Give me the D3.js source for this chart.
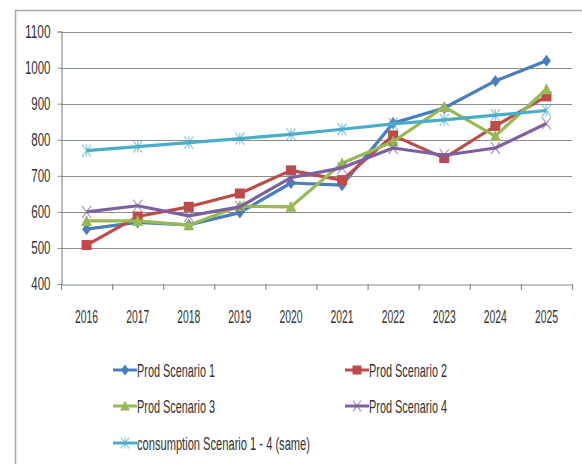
<!DOCTYPE html>
<html><head><meta charset="utf-8">
<script src="https://cdn.jsdelivr.net/npm/d3@7"></script>
<style>
body{margin:0;background:#fff;}
text{font-family:"Liberation Sans",Arial,sans-serif;fill:#333;}
</style></head>
<body><svg id="c" width="582" height="464"></svg>
<script>
const years = ["2016","2017","2018","2019","2020","2021","2022","2023","2024","2025"];
const prod1 = [552, 571, 564, 598, 680, 674, 846, 888, 963, 1019];
const prod2 = [508, 587, 614, 651, 715, 688, 812, 749, 838, 920];
const prod3 = [575, 575, 563, 616, 614, 735, 795, 891, 810, 940];
const prod4 = [600, 617, 589, 614, 695, 722, 777, 757, 777, 845];
const consumption = [770, 781, 792, 803, 815, 829, 844, 855, 868, 881];
const yTicks = [400, 500, 600, 700, 800, 900, 1000, 1100];
const seriesNames = ["Prod Scenario 1","Prod Scenario 2","Prod Scenario 3","Prod Scenario 4","consumption Scenario 1 - 4 (same)"];

const series = [
  {name: seriesNames[0], values: prod1, color: "#4a7ebb", marker: "diamond"},
  {name: seriesNames[1], values: prod2, color: "#be4b48", marker: "square"},
  {name: seriesNames[2], values: prod3, color: "#98b954", marker: "triangle"},
  {name: seriesNames[3], values: prod4, color: "#7d60a0", marker: "x"},
  {name: seriesNames[4], values: consumption, color: "#4bacc6", marker: "star"}
];

const svg = d3.select("#c");
// frame
svg.append("path").attr("d","M15.5,464 V10.5 H582").attr("fill","none").attr("stroke","#a6a6a6").attr("stroke-width",1.5);

const x = d3.scaleBand().domain(years).range([61, 572]);
const y = d3.scaleLinear().domain([400, 1100]).range([284, 31.5]);

// gridlines
svg.append("g").selectAll("line").data(yTicks.slice(1)).join("line")
  .attr("x1", 61).attr("x2", 572)
  .attr("y1", d => Math.round(y(d))+0.5).attr("y2", d => Math.round(y(d))+0.5)
  .attr("stroke", "#8c8c8c").attr("stroke-width", 1.2);

// y axis
const yAxis = svg.append("g").attr("transform","translate(61.5,0)")
  .call(d3.axisLeft(y).tickValues(yTicks).tickFormat(d3.format("d")).tickSize(4).tickPadding(7));
yAxis.select(".domain").attr("stroke","#8c8c8c").attr("stroke-width",1.2);
yAxis.selectAll(".tick line").attr("stroke","#8c8c8c");
yAxis.selectAll("text").attr("font-size",18).attr("font-family",null).style("fill","#333")
  .attr("textLength", d => String(d).length * 6.4).attr("lengthAdjust","spacingAndGlyphs");

// x axis
const xAxis = svg.append("g").attr("transform","translate(0,284.5)")
  .call(d3.axisBottom(x).tickSize(0));
xAxis.select(".domain").attr("stroke","#8c8c8c").attr("stroke-width",1.2);
xAxis.selectAll("text").attr("font-size",18).attr("font-family",null).style("fill","#333")
  .attr("y", 38.5).attr("dy", 0)
  .attr("textLength", 23).attr("lengthAdjust","spacingAndGlyphs");
// x tick marks at band boundaries
svg.append("g").selectAll("line").data(years.concat(["end"])).join("line")
  .attr("x1",(d,i)=> 61 + i*x.bandwidth()+0.5).attr("x2",(d,i)=> 61 + i*x.bandwidth()+0.5)
  .attr("y1",284).attr("y2",290).attr("stroke","#8c8c8c").attr("stroke-width",1.2);

const cx = i => x(years[i]) + x.bandwidth()/2;

function drawMarker(g, type, color, px, py, s) {
  s = s || 1;
  if (type === "diamond") {
    g.append("path").attr("d", `M${px},${py-6*s} L${px+4.5*s},${py} L${px},${py+6*s} L${px-4.5*s},${py} Z`).attr("fill", color);
  } else if (type === "square") {
    g.append("rect").attr("x", px-5*s).attr("y", py-5*s).attr("width", 10*s).attr("height", 10*s).attr("fill", color);
  } else if (type === "triangle") {
    g.append("path").attr("d", `M${px},${py-6*s} L${px+5.5*s},${py+5*s} L${px-5.5*s},${py+5*s} Z`).attr("fill", color);
  } else if (type === "x") {
    g.append("path").attr("d", `M${px-4.5*s},${py-6*s} L${px+4.5*s},${py+6*s} M${px+4.5*s},${py-6*s} L${px-4.5*s},${py+6*s}`).attr("stroke", color).attr("stroke-width", 1.3).attr("opacity",0.6);
  } else if (type === "star") {
    g.append("path").attr("d", `M${px-4.5*s},${py-6*s} L${px+4.5*s},${py+6*s} M${px+4.5*s},${py-6*s} L${px-4.5*s},${py+6*s} M${px},${py-6*s} L${px},${py+6*s}`).attr("stroke", color).attr("stroke-width", 1.3).attr("opacity",0.6);
  }
}

const line = d3.line().x((d,i)=>cx(i)).y(d=>y(d));
const plot = svg.append("g");
series.forEach(s => {
  const g = plot.append("g");
  g.append("path").datum(s.values).attr("d", line).attr("fill","none")
    .attr("stroke", s.color).attr("stroke-width", 3.2).attr("stroke-linejoin","round");
  s.values.forEach((v,i) => drawMarker(g, s.marker, s.color, cx(i), y(v)));
});

// legend
const legendPos = [[113,370],[345,370],[113,406],[345,406],[113,443]];
const legendLen = [78, 78, 78, 78, 173];
const lg = svg.append("g");
series.forEach((s,i) => {
  const [lx, ly] = legendPos[i];
  lg.append("line").attr("x1", lx).attr("x2", lx+24).attr("y1", ly).attr("y2", ly)
    .attr("stroke", s.color).attr("stroke-width", 3);
  drawMarker(lg, s.marker, s.color, lx+12, ly, 0.9);
  lg.append("text").attr("x", lx+24).attr("y", ly+7).attr("font-size",18)
    .attr("textLength", legendLen[i]).attr("lengthAdjust","spacingAndGlyphs").text(s.name);
});
</script></body></html>
